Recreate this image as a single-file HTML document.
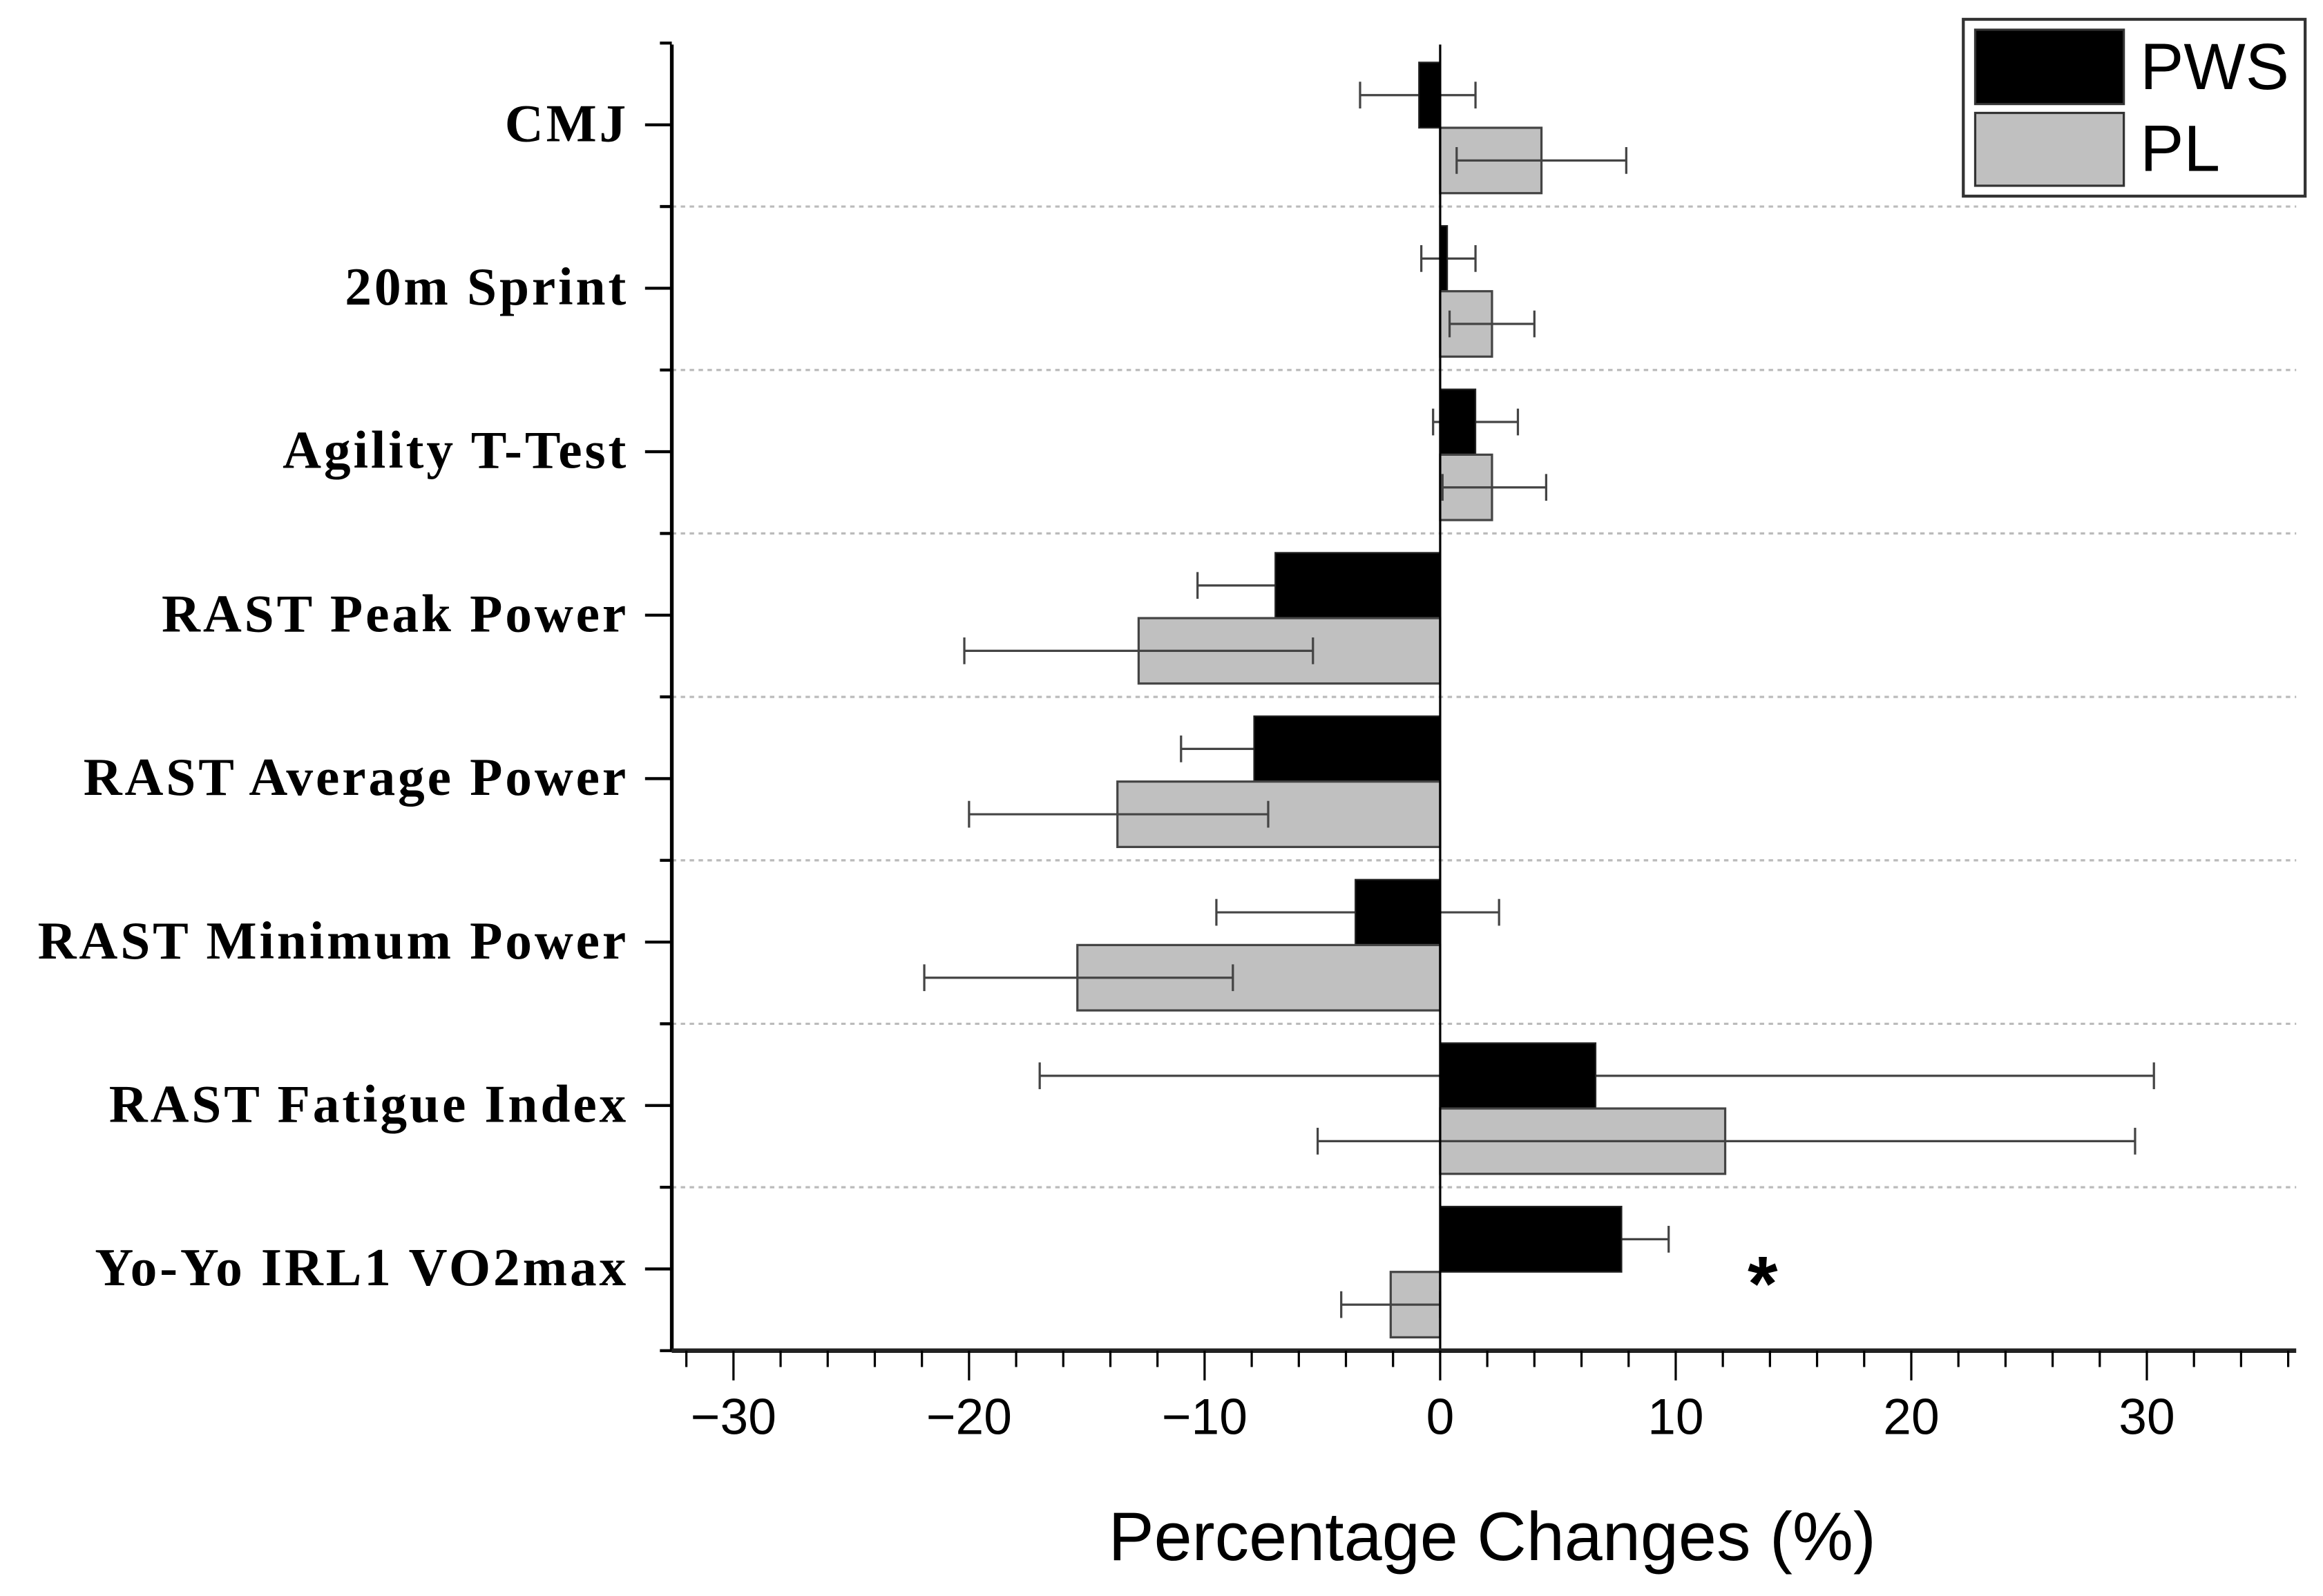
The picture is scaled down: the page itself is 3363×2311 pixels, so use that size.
<!DOCTYPE html>
<html><head><meta charset="utf-8"><style>
html,body{margin:0;padding:0;background:#fff;}
svg{display:block;}
</style></head><body>
<svg id="chart" width="3363" height="2311" viewBox="0 0 1563 1074.1" xmlns="http://www.w3.org/2000/svg">
<g id="grid"></g>
<g id="bars"></g>
<g id="axes"></g>
<g id="legend">
  <rect x="1321" y="13" width="230" height="119" fill="#fff" stroke="#333" stroke-width="2"/>
  <rect x="1329" y="20" width="100" height="50" fill="#000" stroke="#333" stroke-width="1.5"/>
  <rect x="1329" y="76" width="100" height="49" fill="#c0c0c0" stroke="#333" stroke-width="1.5"/>
  <text x="1440" y="60" font-family="Liberation Sans, sans-serif" font-size="44">PWS</text>
  <text x="1440" y="115" font-family="Liberation Sans, sans-serif" font-size="44">PL</text>
</g>
<text x="1186" y="882" text-anchor="middle" font-family="Liberation Sans, sans-serif" font-size="52" font-weight="bold">*</text>
<text x="1004" y="1050" text-anchor="middle" font-family="Liberation Sans, sans-serif" font-size="46">Percentage Changes (%)</text>
</svg>
<script>
const categories = ["CMJ","20m  Sprint","Agility T-Test","RAST Peak Power","RAST Average Power","RAST Minimum Power","RAST Fatigue Index","Yo-Yo IRL1 VO2max"];
const pwsValues = [-0.9, 0.3, 1.5, -7.0, -7.9, -3.6, 6.6, 7.7];
const pwsLow = [-3.4, -0.8, -0.3, -10.3, -11.0, -9.5, -17.0, 5.7];
const pwsHigh = [1.5, 1.5, 3.3, -3.7, -4.8, 2.5, 30.3, 9.7];
const plValues = [4.3, 2.2, 2.2, -12.8, -13.7, -15.4, 12.1, -2.1];
const plLow = [0.7, 0.4, 0.1, -20.2, -20.0, -21.9, -5.2, -4.2];
const plHigh = [7.9, 4.0, 4.5, -5.4, -7.3, -8.8, 29.5, 0.0];
const xTicks = [-30, -20, -10, 0, 10, 20, 30];
const xTickLabels = ["\u221230", "\u221220", "\u221210", "0", "10", "20", "30"];

const NS = "http://www.w3.org/2000/svg";
const X0 = 969, XPER = 15.85;
const xs = v => X0 + v * XPER;
const CAT0 = 84, CATSTEP = 110;
const yc = i => CAT0 + i * CATSTEP;
const AX_L = 452, AX_T = 30, AX_B = 909, AX_R = 1545;
function mk(tag, attrs, parent) {
  const e = document.createElementNS(NS, tag);
  for (const k in attrs) e.setAttribute(k, attrs[k]);
  parent.appendChild(e);
  return e;
}
const grid = document.getElementById('grid');
const bars = document.getElementById('bars');
const axes = document.getElementById('axes');

for (let i = 0; i < categories.length - 1; i++) {
  const y = yc(i) + CATSTEP / 2;
  const l = mk('line', {x1: AX_L, x2: AX_R, y1: y, y2: y, stroke: '#bbb', 'stroke-width': 1.5, 'stroke-dasharray': '3,3'}, grid);
  
  
}

const BH = 44;
function errBar(lo, hi, y, parent, name) {
  const g = mk('g', {stroke: '#444', 'stroke-width': 1.5}, parent);
  
  
  mk('line', {x1: xs(lo), x2: xs(hi), y1: y, y2: y}, g);
  mk('line', {x1: xs(lo), x2: xs(lo), y1: y - 9, y2: y + 9}, g);
  mk('line', {x1: xs(hi), x2: xs(hi), y1: y - 9, y2: y + 9}, g);
}
categories.forEach((c, i) => {
  const mid = yc(i) + 2;
  const pv = pwsValues[i], lv = plValues[i];
  errBar(pwsLow[i], pwsHigh[i], mid - BH / 2, bars, 'error-bar-pws-' + i);
  const r1 = mk('rect', {x: Math.min(xs(0), xs(pv)), y: mid - BH, width: Math.abs(xs(pv) - xs(0)), height: BH, fill: '#000', stroke: '#222', 'stroke-width': 1}, bars);
  
  
  const r2 = mk('rect', {x: Math.min(xs(0), xs(lv)), y: mid, width: Math.abs(xs(lv) - xs(0)), height: BH, fill: '#c0c0c0', stroke: '#444', 'stroke-width': 1.5}, bars);
  
  
  errBar(plLow[i], plHigh[i], mid + BH / 2, bars, 'error-bar-pl-' + i);
  const t = mk('text', {x: 423, y: yc(i) + 11, 'text-anchor': 'end', 'font-family': 'Liberation Serif, serif', 'font-size': 36, 'font-weight': 'bold', 'letter-spacing': 1.8}, axes);
  t.textContent = c;
  
  
  const tk = mk('line', {x1: 434, x2: AX_L, y1: yc(i), y2: yc(i), stroke: '#000', 'stroke-width': 2}, axes);
  
  
});
for (let i = 0; i <= categories.length; i++) {
  const y = yc(i) - CATSTEP / 2;
  if (y > AX_B) continue;
  const tk = mk('line', {x1: 444, x2: AX_L, y1: y, y2: y, stroke: '#000', 'stroke-width': 2}, axes);
  
  
}
const zl = mk('line', {x1: xs(0), x2: xs(0), y1: AX_T, y2: AX_B, stroke: '#000', 'stroke-width': 1.5}, axes);


const ya = mk('line', {x1: AX_L, x2: AX_L, y1: AX_T, y2: AX_B, stroke: '#000', 'stroke-width': 2.5}, axes);


const xa = mk('line', {x1: AX_L, x2: AX_R, y1: AX_B, y2: AX_B, stroke: '#222', 'stroke-width': 3}, axes);


for (let v = -32; v <= 36; v += 2) {
  const major = v % 10 === 0;
  const tk = mk('line', {x1: xs(v), x2: xs(v), y1: AX_B, y2: AX_B + (major ? 20 : 11), stroke: '#000', 'stroke-width': 1.5}, axes);
  
  
}
xTicks.forEach((v, i) => {
  const t = mk('text', {x: xs(v), y: 965, 'text-anchor': 'middle', 'font-family': 'Liberation Sans, sans-serif', 'font-size': 34}, axes);
  t.textContent = xTickLabels[i];
  
  
});
</script>
</body></html>
